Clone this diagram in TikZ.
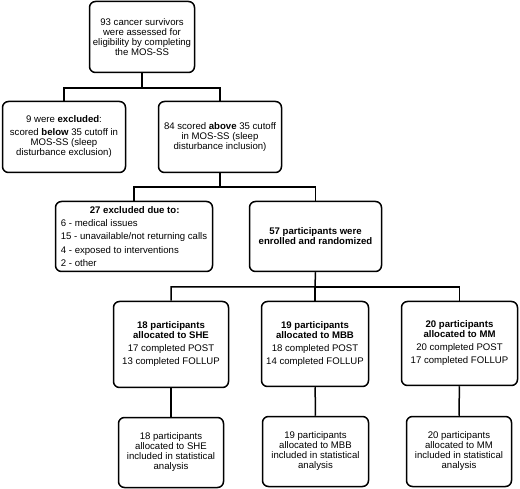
\documentclass[tikz,border=0pt]{standalone}
\usepackage{fontspec}
\setmainfont{Liberation Sans}
\usepackage{tikz}

\begin{document}
\begin{tikzpicture}[x=1pt,y=-1pt,
    box/.style={draw, line width=1.5pt, rounded corners=6pt, align=center,
      inner sep=1pt, font=\fontsize{9.6}{10}\selectfont},
    link/.style={line width=1.5pt}]
        \useasboundingbox (0,0) rectangle (520,489);
        \node[box, minimum width=105, minimum height=71] (screen) at (142,37) {93 cancer survivors\\were assessed for\\eligibility by completing\\the MOS-SS};
        \node[box, minimum width=123, minimum height=71] (below) at (64,137) {9 were \textbf{excluded}:\\[3pt]scored \textbf{below} 35 cutoff in\\MOS-SS (sleep\\disturbance exclusion)};
        \node[box, minimum width=123, minimum height=71] (above) at (220,137) {84 scored \textbf{above} 35 cutoff\\in MOS-SS (sleep\\disturbance inclusion)};
        \node[box, minimum width=157, minimum height=70, align=left] (drop) at (134,236.5) {\hspace*{29pt}\textbf{27 excluded due to:}\\[3.3pt]6 - medical issues\\[3.3pt]15 - unavailable/not returning calls\\[3.3pt]4 - exposed to interventions\\[3.3pt]2 - other};
        \node[box, minimum width=132, minimum height=70] (rand) at (315.5,236.5) {\textbf{57 participants were}\\\textbf{enrolled and randomized}};
        \node[box, minimum width=115, minimum height=86] (she) at (171,344.5) {\textbf{18 participants}\\\textbf{allocated to SHE}\\[3pt]17 completed POST\\[3pt]13 completed FOLLUP};
        \node[box, minimum width=107, minimum height=85] (mbb) at (315,344) {\textbf{19 participants}\\\textbf{allocated to MBB}\\[3pt]18 completed POST\\[3pt]14 completed FOLLUP};
        \node[box, minimum width=116, minimum height=84] (mm) at (459.5,343.5) {\textbf{20 participants}\\\textbf{allocated to MM}\\[3pt]20 completed POST\\[3pt]17 completed FOLLUP};
        \node[box, minimum width=105, minimum height=70] (sheA) at (171,452.5) {18 participants\\allocated to SHE\\included in statistical\\analysis};
        \node[box, minimum width=106, minimum height=70] (mbbA) at (315.5,451.5) {19 participants\\allocated to MBB\\included in statistical\\analysis};
        \node[box, minimum width=105, minimum height=70] (mmA) at (459,451.5) {20 participants\\allocated to MM\\included in statistical\\analysis};
        \coordinate (j1) at (142,88);
        \coordinate (j2) at (220,187);
        \coordinate (j3) at (315,287);
        \draw[link] (screen.south) -- (j1) -| (below.north);
        \draw[link] (j1) -| (above.north);
        \draw[link] (above.south) -- (j2) -| (drop.north);
        \draw[link] (j2) -| (rand.north);
        \draw[link] (rand.south) -- (j3) -| (she.north);
        \draw[link] (j3) -- (mbb.north);
        \draw[link] (j3) -| (mm.north);
        \draw[link] (she) -- (sheA);
        \draw[link] (mbb) -- (mbbA);
        \draw[link] (mm) -- (mmA);
    \end{tikzpicture}
\end{document}
